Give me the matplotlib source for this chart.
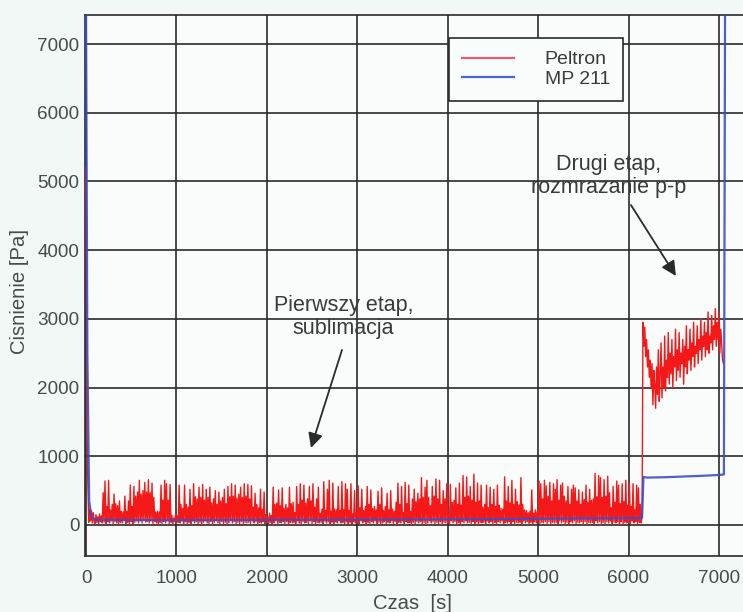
import numpy as np
import matplotlib
matplotlib.use("Agg")
import matplotlib.pyplot as plt
from matplotlib.lines import Line2D

plt.rcParams['font.family'] = ['Liberation Sans', 'DejaVu Sans']

# Peltron pressure, first stage (sampled every 10 s)
red_stage1 = [
    5200, 1500, 620, 40, 230, 60, 210, 30, 180, 50,
    20, 150, 40, 120, 10, 160, 50, 130, 30, 470,
    40, 640, 20, 270, 50, 650, 30, 220, 60, 300,
    20, 450, 50, 310, 30, 280, 10, 350, 40, 200,
    30, 190, 60, 420, 20, 200, 40, 350, 10, 580,
    50, 270, 20, 560, 40, 420, 60, 480, 30, 650,
    60, 450, 30, 500, 70, 620, 40, 480, 50, 660,
    30, 470, 60, 610, 20, 400, 50, 190, 30, 200,
    10, 190, 40, 580, 20, 360, 50, 650, 30, 600,
    60, 360, 20, 590, 40, 140, 10, 100, 50, 150,
    20, 130, 40, 580, 30, 300, 60, 240, 20, 580,
    50, 300, 10, 260, 40, 520, 20, 280, 60, 600,
    30, 410, 50, 380, 20, 550, 40, 400, 10, 590,
    40, 360, 60, 520, 30, 400, 20, 550, 50, 320,
    10, 380, 40, 500, 60, 300, 30, 480, 20, 350,
    50, 400, 20, 520, 40, 310, 10, 560, 30, 410,
    60, 600, 30, 420, 50, 580, 20, 390, 40, 450,
    20, 550, 50, 400, 10, 600, 40, 420, 30, 590,
    40, 380, 20, 570, 60, 260, 30, 460, 50, 300,
    10, 250, 40, 520, 30, 230, 50, 480, 20, 150,
    50, 110, 20, 170, 40, 140, 10, 550, 30, 300,
    60, 320, 20, 510, 40, 280, 30, 540, 50, 240,
    20, 300, 50, 250, 10, 550, 40, 310, 30, 330,
    40, 180, 20, 560, 60, 300, 30, 600, 10, 360,
    50, 580, 30, 320, 40, 380, 20, 560, 60, 350,
    20, 600, 50, 260, 10, 380, 40, 550, 30, 170,
    40, 230, 20, 630, 60, 210, 30, 520, 50, 650,
    10, 200, 40, 610, 20, 230, 50, 220, 30, 560,
    60, 210, 30, 630, 40, 220, 20, 600, 50, 520,
    20, 210, 40, 600, 10, 160, 50, 500, 30, 180,
    40, 570, 20, 250, 60, 520, 30, 210, 50, 270,
    10, 560, 40, 300, 20, 510, 50, 240, 30, 270,
    60, 220, 20, 490, 40, 300, 10, 540, 30, 210,
    50, 270, 20, 460, 40, 220, 30, 500, 60, 230,
    20, 200, 50, 330, 10, 610, 40, 300, 30, 560,
    60, 180, 20, 620, 50, 310, 30, 580, 40, 200,
    10, 380, 40, 520, 20, 340, 50, 460, 30, 380,
    50, 690, 20, 400, 40, 550, 10, 650, 30, 400,
    60, 280, 30, 560, 50, 420, 20, 670, 40, 380,
    20, 650, 50, 300, 10, 500, 40, 380, 30, 600,
    40, 150, 20, 590, 60, 330, 30, 360, 50, 540,
    10, 300, 40, 610, 20, 290, 50, 720, 30, 400,
    60, 700, 30, 420, 40, 560, 20, 360, 50, 740,
    20, 330, 50, 610, 10, 350, 40, 580, 30, 260,
    40, 300, 20, 580, 60, 250, 30, 550, 50, 300,
    10, 520, 40, 270, 20, 580, 50, 290, 30, 240,
    60, 230, 20, 700, 40, 350, 30, 560, 50, 320,
    20, 650, 50, 300, 10, 520, 40, 340, 30, 290,
    40, 690, 20, 300, 60, 220, 30, 210, 50, 180,
    10, 200, 40, 510, 20, 170, 50, 220, 30, 190,
    60, 640, 20, 600, 40, 380, 30, 650, 50, 570,
    20, 420, 50, 620, 10, 350, 40, 600, 30, 520,
    40, 660, 20, 360, 60, 580, 30, 610, 50, 420,
    10, 350, 40, 560, 20, 300, 50, 520, 30, 580,
    60, 540, 20, 350, 40, 510, 30, 300, 50, 480,
    20, 370, 50, 580, 10, 330, 40, 520, 30, 360,
    40, 380, 20, 750, 60, 410, 30, 720, 50, 690,
    10, 400, 40, 660, 20, 420, 50, 710, 30, 470,
    60, 250, 20, 560, 40, 330, 30, 640, 50, 580,
    20, 310, 50, 600, 10, 340, 40, 650, 30, 290,
    40, 620, 20, 270, 60, 600, 30, 220, 50, 580,
    20, 540, 40, 300, 30, 120,
]
stage1_step = 10

# Peltron pressure, second stage (sampled every 10 s from 6160 s)
red_stage2 = [
    2950, 2600, 2880, 2450, 2700, 2300, 2550, 2150, 2400, 2000,
    2350, 1750, 2250, 2050, 1700, 2300, 1900, 2550, 1800, 2200,
    2650, 1850, 2300, 2000, 2750, 1950, 2400, 2150, 2800, 2050,
    2500, 2200, 2700, 2000, 2450, 2300, 2850, 2100, 2550, 2250,
    2800, 2150, 2500, 2350, 2700, 2050, 2600, 2300, 2900, 2200,
    2550, 2400, 2850, 2250, 2650, 2450, 2950, 2300, 2600, 2500,
    2900, 2350, 2700, 2550, 3000, 2400, 2750, 2600, 2950, 2450,
    2800, 2550, 3100, 2500, 2750, 2650, 3050, 2550, 2900, 2700,
    3150, 2600, 2950, 2700, 3100, 2500, 2850, 2650, 2400, 2350,
]
stage2_start = 6160
stage2_step = 10

# MP 211 pressure
blue_t = [0, 15, 35, 60, 100, 500, 1000, 1500, 2000, 2500, 3000, 3500,
          4000, 4500, 5000, 5500, 6000, 6150, 6165, 6200, 6400, 6600,
          6800, 7000, 7055, 7068]
blue_v = [7600, 2500, 350, 120, 75, 72, 70, 72, 75, 76, 78, 80,
          83, 86, 90, 95, 100, 105, 700, 690, 695, 705,
          715, 728, 735, 7600]

xticks = [0, 1000, 2000, 3000, 4000, 5000, 6000, 7000]
yticks = [0, 1000, 2000, 3000, 4000, 5000, 6000, 7000]

red_t = np.concatenate([
    np.arange(len(red_stage1)) * stage1_step,
    stage2_start + np.arange(len(red_stage2)) * stage2_step,
])
red_v = np.array(red_stage1 + red_stage2, dtype=float)

W, H = 743, 612
fig = plt.figure(figsize=(W / 100, H / 100), dpi=100, facecolor='#f1f8f6')
ax = fig.add_axes([85.1 / W, (H - 555.9) / H, 670 / W, 540.7 / H])
ax.set_facecolor('#f9fcfb')

ax.plot(red_t, red_v, color='#f41818', lw=1.0, zorder=3)
ax.plot(blue_t, blue_v, color='#3a4fc8', lw=1.6, alpha=0.9, zorder=4)

ax.set_xlim(-10, 7400)
ax.set_ylim(-450, 7420)
ax.set_xticks(xticks)
ax.set_yticks(yticks)
ax.grid(True, color='#2b2b2b', lw=1.2, zorder=1)
ax.set_axisbelow(True)
ax.tick_params(length=0, labelsize=13.6, colors='#4a4a4a')
ax.tick_params(axis='x', pad=10)
ax.tick_params(axis='y', pad=4)
for side in ('left', 'bottom', 'top'):
    ax.spines[side].set_color('#2b2b2b')
    ax.spines[side].set_linewidth(1.2)
ax.spines['right'].set_visible(False)

ax.set_xlabel('Czas  [s]', fontsize=14.6, color='#4a4a4a')
ax.set_ylabel('Cisnienie [Pa]', fontsize=14.6, color='#4a4a4a')
ax.xaxis.set_label_coords(0.488, -0.071)
ax.yaxis.set_label_coords(-0.083, 0.49)

handles = [Line2D([], [], color='#e65a78', lw=1.6),
           Line2D([], [], color='#4a66d4', lw=1.6)]
leg = ax.legend(handles, ['Peltron', 'MP 211'], loc='upper left',
                bbox_to_anchor=(0.5433, 0.9575), borderaxespad=0,
                fontsize=14, handlelength=2.67, handletextpad=1.6,
                labelspacing=0.1, borderpad=0.65, fancybox=False,
                framealpha=1, facecolor='#f8fcfb', edgecolor='#2b2b2b')
leg.get_frame().set_linewidth(1.2)
for txt in leg.get_texts():
    txt.set_color('#3a3a3a')

arrow_style = dict(arrowstyle='-|>', color='#2a2a2a', lw=1.3,
                   mutation_scale=22, shrinkA=0, shrinkB=0)
ax.text(2850, 3030, 'Pierwszy etap,\nsublimacja', ha='center', va='center',
        fontsize=15.5, color='#3a3a3a', linespacing=1.15, zorder=5)
ax.annotate('', xy=(2488, 1121), xytext=(2831, 2547),
            arrowprops=arrow_style, zorder=5)

ax.text(5784, 5080, 'Drugi etap,\nrozmrazanie p-p', ha='center', va='center',
        fontsize=15.5, color='#3a3a3a', linespacing=1.15, zorder=5)
ax.annotate('', xy=(6524, 3624), xytext=(6027, 4657),
            arrowprops=arrow_style, zorder=5)

fig.savefig('out.png', dpi=100, facecolor=fig.get_facecolor())
